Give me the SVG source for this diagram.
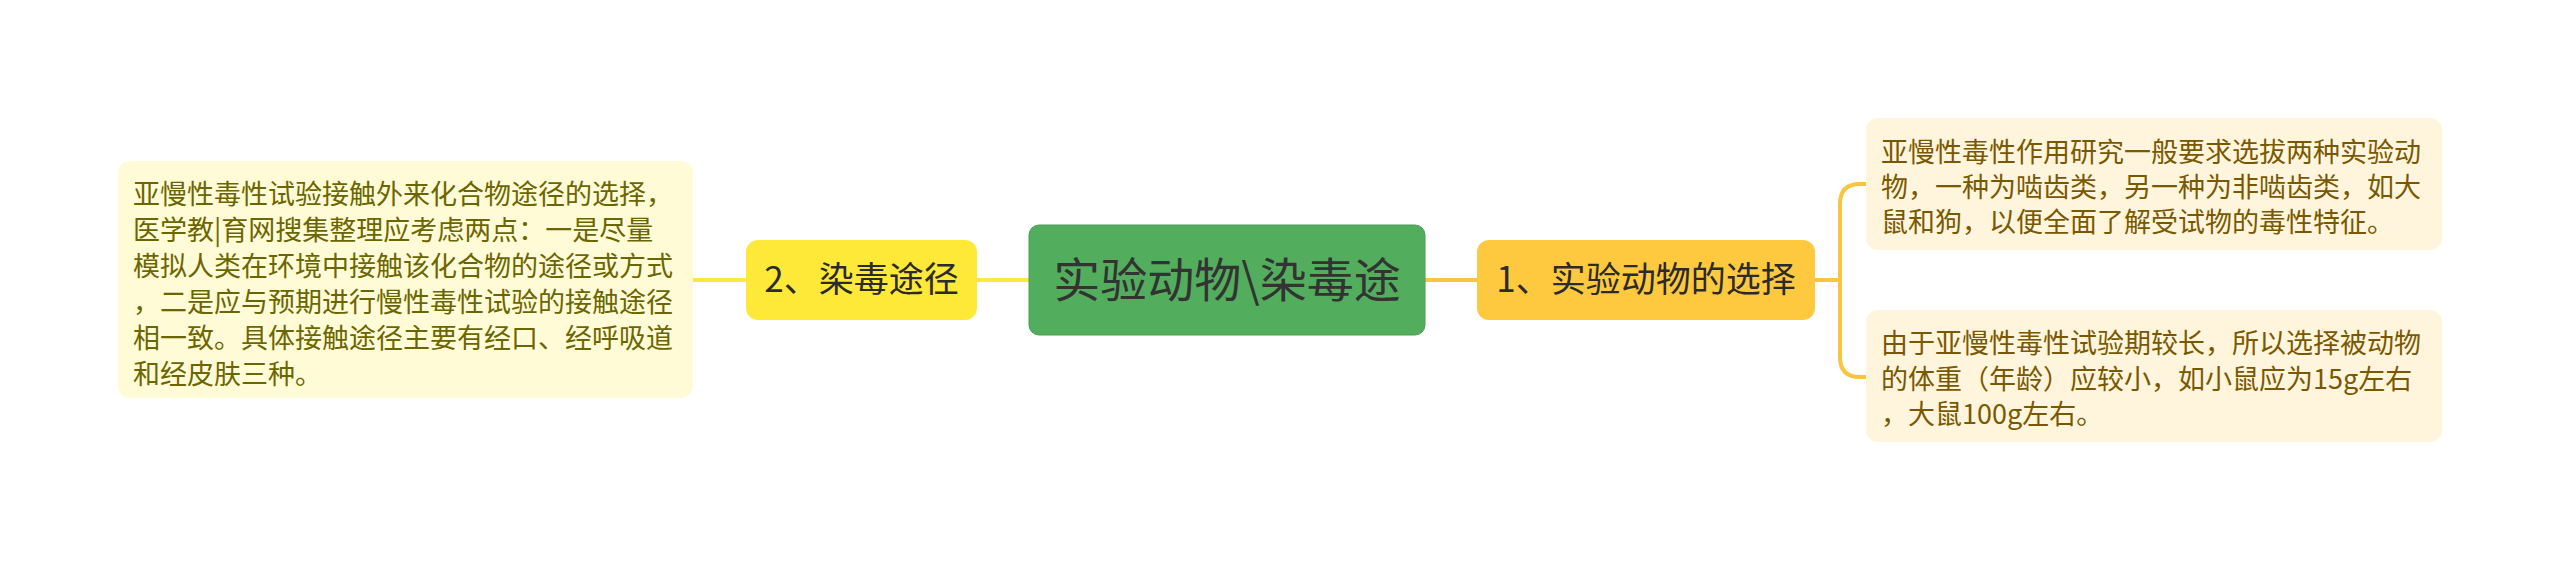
<svg xmlns="http://www.w3.org/2000/svg" width="2560" height="561" viewBox="0 0 2560 561">
<style>
.t{font-family:"Microsoft YaHei","Noto Sans CJK SC","Noto Sans",sans-serif}
.main{font-size:47px;fill:#333333}
.sub{font-size:35px;fill:#2b2b2b}
.leafL{font-size:27px;fill:#6b6600}
.leafR{font-size:27px;fill:#7a5800}
.c{fill:none;stroke-width:4;stroke-linecap:round}
</style>
<rect width="2560" height="561" fill="#ffffff"/>
<g id="connectors">
<path class="c" stroke="#ffe83f" d="M693 280H746"/>
<path class="c" stroke="#ffe83f" d="M977 280H1029"/>
<path class="c" stroke="#f9c43f" d="M1425 280H1477"/>
<path class="c" stroke="#f9c43f" d="M1815 280H1840"/>
<path class="c" stroke="#f9c43f" d="M1866 184H1860Q1840 184 1840 204V357Q1840 377 1860 377H1866"/>
</g>
<g id="central">
<rect x="1029" y="225" width="396" height="110" rx="10" fill="#52ae5d" stroke="#4a9f55" stroke-width="1"/>
<text class="t main" x="1227" y="297" text-anchor="middle">实验动物\染毒途</text>
</g>
<g id="node1">
<rect x="1477" y="240" width="338" height="80" rx="12" fill="#fec93f"/>
<text class="t sub" x="1646" y="292" text-anchor="middle">1、实验动物的选择</text>
</g>
<g id="node2">
<rect x="746" y="240" width="231" height="80" rx="12" fill="#ffe938"/>
<text class="t sub" x="861.5" y="292" text-anchor="middle">2、染毒途径</text>
</g>
<g id="leafLeft">
<rect x="118" y="161" width="575" height="237" rx="12" fill="#fffbd6"/>
<text class="t leafL" x="133" y="204">亚慢性毒性试验接触外来化合物途径的选择，</text>
<text class="t leafL" x="133" y="240">医学教|育网搜集整理应考虑两点：一是尽量</text>
<text class="t leafL" x="133" y="276">模拟人类在环境中接触该化合物的途径或方式</text>
<text class="t leafL" x="133" y="312">，二是应与预期进行慢性毒性试验的接触途径</text>
<text class="t leafL" x="133" y="348">相一致。具体接触途径主要有经口、经呼吸道</text>
<text class="t leafL" x="133" y="384">和经皮肤三种。</text>
</g>
<g id="leafRight1">
<rect x="1866" y="118" width="576" height="132" rx="12" fill="#fff5dc"/>
<text class="t leafR" x="1881" y="162">亚慢性毒性作用研究一般要求选拔两种实验动</text>
<text class="t leafR" x="1881" y="197">物，一种为啮齿类，另一种为非啮齿类，如大</text>
<text class="t leafR" x="1881" y="232">鼠和狗，以便全面了解受试物的毒性特征。</text>
</g>
<g id="leafRight2">
<rect x="1866" y="310" width="576" height="132" rx="12" fill="#fff5dc"/>
<text class="t leafR" x="1881" y="353">由于亚慢性毒性试验期较长，所以选择被动物</text>
<text class="t leafR" x="1881" y="389">的体重（年龄）应较小，如小鼠应为15g左右</text>
<text class="t leafR" x="1881" y="424">，大鼠100g左右。</text>
</g>
</svg>
